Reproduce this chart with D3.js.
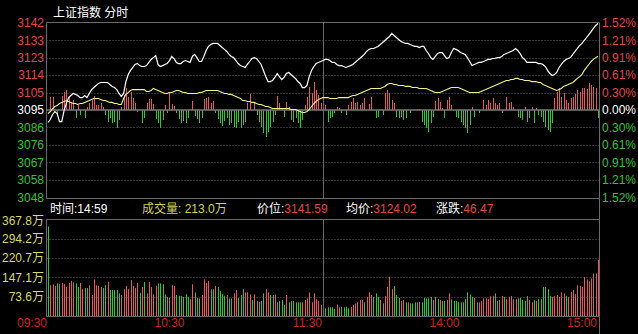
<!DOCTYPE html>
<html>
<head>
<meta charset="utf-8">
<script src="https://cdnjs.cloudflare.com/ajax/libs/d3/7.8.5/d3.min.js"></script>
<style>
body { margin: 0; background: #000; }
svg { display: block; font-family: Arial, "Liberation Sans", "Noto Sans CJK SC", sans-serif; }
</style>
</head>
<body>
<svg id="chart" width="638" height="334"></svg>
<script>
// ---- data (one value per minute, 09:30 .. 11:30, 13:01 .. 15:00) ----
const title = "上证指数";
const subTitle = "分时";
const prevClose = 3095.12;

const price = [
3088.4,3090.0,3092.7,3094.3,3093.2,3088.9,3088.9,3094.8,3098.6,3101.8,
3102.9,3104.0,3103.5,3102.9,3101.8,3101.8,3102.9,3101.8,3104.0,3106.1,
3107.2,3108.3,3109.4,3109.9,3109.9,3109.9,3109.9,3108.8,3107.8,3107.2,
3106.1,3104.0,3102.4,3104.0,3110.4,3114.2,3116.4,3118.0,3119.6,3120.1,
3119.0,3118.5,3118.5,3119.0,3120.7,3122.3,3123.3,3124.4,3119.6,3118.5,
3119.0,3119.6,3120.1,3121.7,3123.9,3122.8,3120.7,3120.1,3120.1,3121.2,
3121.7,3121.2,3120.7,3123.9,3125.0,3123.3,3121.2,3121.2,3123.9,3127.1,
3129.3,3130.3,3130.9,3130.9,3130.9,3129.8,3128.7,3127.7,3126.6,3125.0,
3123.9,3123.3,3121.7,3120.1,3119.0,3118.5,3118.0,3119.6,3121.2,3122.8,
3123.3,3122.8,3121.2,3119.6,3116.4,3113.1,3110.4,3110.4,3111.0,3112.6,
3114.7,3113.1,3111.5,3112.6,3114.7,3115.3,3114.2,3113.1,3112.1,3110.4,
3109.4,3107.2,3107.2,3108.3,3113.1,3116.4,3118.5,3120.1,3120.7,3121.2,
3121.7,
3122.3,3122.3,3121.7,3120.7,3120.7,3119.6,3119.0,3119.0,3118.5,
3118.0,3118.5,3119.0,3119.6,3120.7,3121.7,3122.8,3123.9,3125.0,3126.6,
3127.7,3128.2,3128.2,3128.7,3129.3,3130.3,3131.4,3132.5,3133.6,3134.6,
3136.3,3135.2,3134.1,3133.0,3132.0,3131.4,3130.9,3130.9,3130.3,3129.8,
3129.3,3129.3,3128.7,3129.3,3129.3,3127.1,3125.5,3123.3,3122.3,3123.9,
3125.5,3126.0,3126.0,3124.4,3122.8,3123.3,3126.0,3128.2,3127.7,3127.1,
3126.0,3125.5,3125.0,3123.3,3121.2,3119.0,3119.6,3120.1,3120.7,3120.7,
3121.2,3121.7,3122.3,3122.3,3122.8,3122.8,3123.3,3123.3,3123.9,3125.0,
3125.5,3126.0,3126.6,3127.1,3128.2,3127.1,3125.5,3123.3,3122.3,3120.7,
3120.7,3120.7,3120.7,3120.7,3120.1,3120.1,3119.6,3118.5,3116.4,3114.7,
3113.7,3114.2,3115.3,3118.0,3119.6,3121.2,3122.3,3122.8,3123.3,3125.0,
3126.6,3128.2,3129.8,3130.9,3132.5,3134.1,3135.7,3137.3,3139.0,3140.6,
3141.59
];

const avgPrice = [
3093.2,3094.3,3095.9,3097.0,3097.5,3098.6,3099.2,3099.7,3100.2,3099.7,
3099.2,3098.6,3098.6,3098.1,3098.6,3098.6,3099.2,3099.7,3100.2,3100.8,
3101.3,3101.3,3101.3,3100.8,3100.2,3100.2,3099.7,3099.2,3099.2,3098.6,
3098.6,3098.1,3098.1,3101.3,3103.5,3104.5,3105.6,3106.1,3106.1,3106.1,
3106.1,3106.1,3106.1,3105.1,3105.1,3105.6,3106.7,3106.1,3105.6,3105.1,
3104.5,3104.0,3104.0,3104.5,3104.5,3105.1,3105.6,3105.6,3105.1,3104.5,
3104.5,3104.0,3104.0,3104.0,3104.0,3104.0,3104.5,3104.5,3105.1,3105.6,
3105.6,3105.6,3105.6,3105.6,3105.6,3105.1,3104.5,3104.0,3104.0,3103.5,
3103.5,3102.9,3102.4,3101.8,3101.3,3100.2,3100.2,3099.7,3099.7,3099.2,
3099.2,3098.6,3098.1,3098.1,3097.5,3097.0,3097.0,3096.5,3095.9,3095.9,
3095.9,3095.9,3095.9,3095.9,3095.9,3095.9,3095.4,3095.4,3095.4,3094.8,
3094.3,3093.8,3093.8,3094.3,3095.4,3097.0,3098.6,3099.7,3100.8,3101.3,
3101.8,
3101.8,3101.8,3101.3,3101.3,3101.3,3101.3,3101.8,3101.8,3101.8,
3101.8,3101.8,3102.4,3102.9,3102.9,3103.5,3104.0,3104.5,3105.1,3105.6,
3106.1,3106.7,3106.7,3106.7,3106.7,3106.7,3107.2,3107.8,3108.8,3109.4,
3109.4,3108.8,3108.8,3108.3,3108.3,3108.3,3107.8,3107.8,3107.8,3107.2,
3107.2,3107.2,3106.7,3106.7,3106.7,3106.7,3106.1,3105.6,3105.1,3104.5,
3104.5,3104.5,3105.1,3105.6,3106.1,3106.7,3107.2,3107.2,3107.2,3107.2,
3106.7,3106.1,3105.6,3105.1,3104.5,3104.5,3104.5,3104.5,3104.5,3105.1,
3105.6,3106.1,3106.7,3107.2,3107.8,3108.3,3108.8,3109.4,3109.9,3110.4,
3111.0,3111.0,3111.5,3111.5,3112.1,3112.1,3111.5,3111.5,3111.0,3111.0,
3111.0,3110.4,3110.4,3110.4,3109.9,3109.9,3108.8,3108.3,3107.8,3107.2,
3106.7,3106.1,3105.6,3106.1,3106.7,3107.8,3108.3,3108.8,3109.4,3109.9,
3111.0,3112.1,3113.1,3114.2,3116.4,3118.0,3119.6,3121.2,3122.3,3123.3,
3124.02
];

// buy/sell strength bars drawn around the previous close
const strength = [
0,13,13,0,-5,0,14,18,20,13,
7,10,-8,5,-5,0,-8,3,7,10,
14,5,5,7,3,-5,-12,-8,-13,-12,
-18,-10,3,15,22,13,18,12,7,-2,
0,-13,-8,7,11,11,6,-9,-13,-18,
-10,5,-3,17,6,4,-3,-9,-13,-11,
-13,-8,0,9,-6,-9,-13,-8,11,12,
13,7,9,-3,-9,-13,-16,-11,-8,-15,
-13,-17,-18,-12,-18,-15,-12,7,16,0,
7,-5,-12,-17,-23,-27,-22,-17,-12,-5,
14,7,2,-7,8,3,-10,-12,-8,-13,
-18,-10,5,13,23,17,28,20,15,7,
12,
5,-12,-8,-7,-3,3,2,-3,0,
-5,5,8,12,7,8,5,7,12,0,
6,13,0,-8,-7,0,-5,17,20,17,
10,7,-7,-8,-7,-10,-8,0,-3,0,
0,1,1,-12,-15,-18,-22,-13,-7,9,
12,8,2,-8,10,13,5,0,-7,-8,
-12,-15,-18,-23,-15,3,-7,0,-3,0,
10,5,10,7,12,7,5,7,-3,0,
13,7,8,3,0,-7,-8,-10,3,-12,
-8,3,-13,2,-5,-7,-12,-17,-20,-22,
-13,12,18,22,13,17,10,7,12,13,
16,20,18,22,22,21,27,25,23,22,
-8
];

// volume, in 万
const volume = [
341,117,120,115,124,121,126,121,111,126,
134,128,124,111,126,102,107,107,117,80,
139,117,115,111,107,117,130,99,99,99,
99,86,80,102,115,102,137,115,107,126,
88,111,130,86,130,111,82,115,124,124,
121,82,73,69,117,115,80,77,77,73,
83,73,64,121,90,69,67,80,139,126,
134,102,102,115,111,95,83,77,80,67,
67,86,99,69,80,102,90,90,82,61,
83,57,54,57,86,102,90,80,80,82,
52,57,61,42,80,52,57,57,52,52,
52,52,61,67,90,52,86,64,57,42,
114,
29,33,33,33,27,44,33,35,33,
35,29,35,42,48,52,61,61,52,73,
90,80,73,86,73,61,48,76,111,149,
102,114,80,69,57,61,52,52,48,48,
52,52,54,52,69,67,67,73,61,73,
64,61,57,57,61,86,64,57,57,54,
52,52,64,90,82,73,69,52,52,57,
67,67,64,76,76,86,57,61,76,73,
64,73,76,64,64,67,69,61,57,76,
61,52,61,57,64,64,111,111,102,76,
73,76,80,73,90,86,76,73,92,99,
83,117,115,111,149,139,132,143,162,162,
213.0
];

// 1 = up minute (red), 0 = down minute (green)
const volUp = [
0,1,1,1,0,0,1,1,1,1,
1,1,0,0,1,1,0,0,1,1,
1,1,1,1,0,0,1,0,0,0,
0,0,1,1,1,1,1,1,1,1,
0,1,0,1,1,1,1,1,0,0,
0,0,0,1,1,1,0,0,0,0,
0,0,1,1,0,0,0,1,1,1,
1,0,0,1,0,0,0,0,1,0,
0,1,1,0,0,0,1,1,1,0,
1,0,1,0,0,1,1,0,0,1,
1,0,0,0,1,0,0,0,0,0,
0,1,1,1,1,1,1,1,1,1,
1,
0,0,0,0,0,1,1,0,0,
0,0,1,1,1,1,1,1,0,1,
1,1,0,0,0,1,0,1,1,1,
1,0,0,0,1,1,0,1,0,0,
0,0,1,0,0,0,0,0,1,0,
0,1,0,0,1,1,0,0,0,0,
0,0,0,0,0,0,1,0,1,1,
1,1,1,1,1,0,0,1,1,0,
1,1,1,1,1,0,0,0,0,0,
1,1,0,1,0,0,0,0,0,0,
1,1,1,1,1,1,0,1,1,1,
1,1,1,1,1,1,1,1,1,1,
1
];

const pctTicks = [1.52, 1.21, 0.91, 0.61, 0.30, 0, -0.30, -0.61, -0.91, -1.21, -1.52];
const priceTickLabels = ["3142","3133","3123","3114","3105","3095","3086","3076","3067","3058","3048"];
const pctTickLabels = ["1.52%","1.21%","0.91%","0.61%","0.30%","0.00%","0.30%","0.61%","0.91%","1.21%","1.52%"];
const volTicks = [367.8, 294.2, 220.7, 147.1, 73.6];
const volTickLabels = ["367.8万","294.2万","220.7万","147.1万","73.6万"];
const timeTickIdx = [0, 60, 120, 180, 240];
const timeTickLabels = ["09:30","10:30","11:30","14:00","15:00"];

const infoLabels = ["时间:", "成交量: ", "价位:", "均价:", "涨跌:"];
const infoValues = ["14:59", "213.0万", "3141.59", "3124.02", "46.47"];

// ---- layout ----
const svg = d3.select("#chart");
const left = 46.5, right = 599.5;
const pTop = 22.5, pBot = 197.5;
const vTop = 219.5, vBot = 316;
const RED = "#e04848", GREEN = "#36c236", BARRED = "#e85a5a", BARGREEN = "#35c435";
const GRID = "#5c5c5c", BORDER = "#6a6a6a";

svg.append("rect").attr("width", 638).attr("height", 334).attr("fill", "#000");

const x = d3.scaleLinear().domain([0, 240]).range([48, 598]);
const maxPct = 1.52;
const y = d3.scaleLinear()
  .domain([prevClose * (1 - maxPct / 100), prevClose * (1 + maxPct / 100)])
  .range([pBot, pTop]);
const yS = d3.scaleLinear().domain([-87.5, 87.5]).range([pBot, pTop]);
const yV = d3.scaleLinear().domain([0, 367.8]).range([vBot, vTop]);

// grid lines in price panel
pctTicks.forEach(function (p, k) {
  const yy = Math.round(y(prevClose * (1 + p / 100))) + 0.5;
  if (p === 0 || k === 0) return;
  svg.append("line")
    .attr("x1", left).attr("x2", right).attr("y1", yy).attr("y2", yy)
    .attr("stroke", GRID).attr("stroke-dasharray", "1,2");
});
// grid lines in volume panel
volTicks.slice(1).forEach(function (v) {
  const yy = Math.round(yV(v)) + 0.5;
  svg.append("line")
    .attr("x1", left).attr("x2", right).attr("y1", yy).attr("y2", yy)
    .attr("stroke", GRID).attr("stroke-dasharray", "1,2");
});

// strength bars
const baseY = y(prevClose);
svg.append("g").selectAll("rect")
  .data(strength)
  .enter().append("rect")
    .attr("x", function (d, i) { return Math.round(x(i)); })
    .attr("width", 1)
    .attr("y", function (d) { return d > 0 ? yS(d) : baseY; })
    .attr("height", function (d) { return Math.abs(yS(d) - yS(0)); })
    .attr("fill", function (d) { return d > 0 ? BARRED : BARGREEN; });

// volume bars
svg.append("g").selectAll("rect")
  .data(volume)
  .enter().append("rect")
    .attr("x", function (d, i) { return Math.round(x(i)); })
    .attr("width", 1)
    .attr("y", function (d) { return yV(d); })
    .attr("height", function (d) { return vBot - yV(d); })
    .attr("fill", function (d, i) { return volUp[i] ? BARRED : BARGREEN; });

// frame
const frame = svg.append("g").attr("stroke", BORDER).attr("stroke-width", 1);
frame.append("line").attr("x1", left).attr("x2", right).attr("y1", pTop).attr("y2", pTop);
frame.append("line").attr("x1", left).attr("x2", right).attr("y1", pBot + 1).attr("y2", pBot + 1);
frame.append("line").attr("x1", left).attr("x2", right).attr("y1", vTop).attr("y2", vTop);
frame.append("line").attr("x1", left).attr("x2", right).attr("y1", vBot + 0.5).attr("y2", vBot + 0.5);
frame.append("line").attr("x1", left).attr("x2", left).attr("y1", pTop).attr("y2", pBot + 1);
frame.append("line").attr("x1", left).attr("x2", left).attr("y1", vTop).attr("y2", vBot + 0.5);
frame.append("line").attr("x1", right).attr("x2", right).attr("y1", pTop).attr("y2", 334);
const noonX = Math.round(x(120)) + 0.5;
frame.append("line").attr("x1", noonX).attr("x2", noonX).attr("y1", pTop).attr("y2", pBot + 1);
frame.append("line").attr("x1", noonX).attr("x2", noonX).attr("y1", vTop).attr("y2", vBot);

// previous close line
svg.append("line")
  .attr("x1", left).attr("x2", right)
  .attr("y1", baseY).attr("y2", baseY)
  .attr("stroke", "#7a7a7a").attr("stroke-width", 1.5);

// average and price lines
const line = d3.line().x(function (d, i) { return x(i); }).y(function (d) { return y(d); });
svg.append("path").datum(avgPrice)
  .attr("d", line).attr("fill", "none")
  .attr("stroke", "#f4f48a").attr("stroke-width", 1.1);
svg.append("path").datum(price)
  .attr("d", line).attr("fill", "none")
  .attr("stroke", "#ffffff").attr("stroke-width", 1.2);

// axis labels
const font = "12px";
pctTicks.forEach(function (p, k) {
  const yy = y(prevClose * (1 + p / 100));
  const c = p > 0 ? RED : (p < 0 ? GREEN : "#ffffff");
  svg.append("text")
    .attr("x", 44).attr("y", yy).attr("dy", "0.36em")
    .attr("text-anchor", "end").attr("font-size", font).attr("fill", c)
    .text(priceTickLabels[k]);
  svg.append("text")
    .attr("x", 602).attr("y", yy).attr("dy", "0.36em")
    .attr("font-size", font).attr("fill", c)
    .text(pctTickLabels[k]);
});

volTicks.forEach(function (v, k) {
  svg.append("text")
    .attr("x", 44).attr("y", Math.max(yV(v), 221)).attr("dy", "0.36em")
    .attr("text-anchor", "end").attr("font-size", font).attr("fill", "#d8d86a")
    .text(volTickLabels[k]);
});

timeTickIdx.forEach(function (t, k) {
  svg.append("text")
    .attr("x", x(t) - 1).attr("y", 323).attr("dy", "0.36em")
    .attr("text-anchor", "end").attr("font-size", font).attr("fill", "#c82424")
    .text(timeTickLabels[k]);
});

// header
svg.append("text")
  .attr("x", 53).attr("y", 17)
  .attr("font-size", font).attr("fill", "#ffffff")
  .text(title + " " + subTitle);

// info bar
const infoX = [50, 142, 257, 346, 436];
infoLabels.forEach(function (lab, k) {
  const isVol = k === 1;
  const t = svg.append("text")
    .attr("x", infoX[k]).attr("y", 213)
    .attr("font-size", font);
  t.append("tspan").attr("fill", isVol ? "#d2d25a" : "#ffffff").text(lab);
  t.append("tspan").attr("fill", isVol ? "#d2d25a" : (k === 0 ? "#ffffff" : RED)).text(infoValues[k]);
});
</script>
</body>
</html>
